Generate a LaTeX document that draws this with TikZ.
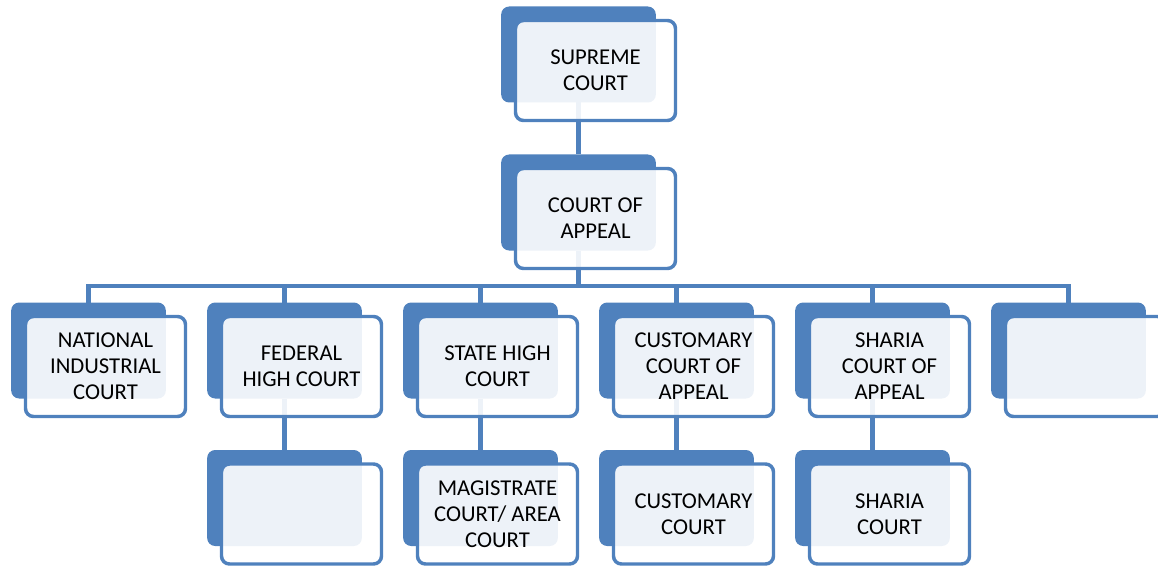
\documentclass[tikz,border=0pt]{standalone}
\usepackage{fontspec}
\setmainfont{Carlito}
\usepackage{xcolor}
\usetikzlibrary{calc,backgrounds}
\definecolor{courtblue}{HTML}{4F81BD}

\newcommand{\courtbox}[4]{%
  \node[backbox] (#1-b) at (#2,#3) {};
  \node[frontbox] (#1) at ($(#1-b)+(17,16)$) {#4};}

\begin{document}
\begin{tikzpicture}[x=0.75pt,y=0.75pt,yscale=-1,xscale=1,
    backbox/.style={fill=courtblue, rounded corners=6pt, minimum width=116pt, minimum height=72pt, inner sep=0pt, outer sep=0pt},
    frontbox/.style={draw=courtblue, line width=2.6pt, fill=white, fill opacity=0.9, text opacity=1, rounded corners=6pt, minimum width=120pt, minimum height=75pt, inner sep=0pt, outer sep=0pt, align=center, font=\fontsize{17}{19.5}\selectfont},
    link/.style={draw=courtblue, line width=3.2pt}]
        \useasboundingbox (0,0) rectangle (1158,567);

        % top
        \courtbox{sc}{578.5}{54.5}{SUPREME\\COURT}
        \courtbox{ca}{578.5}{202.5}{COURT OF\\APPEAL}
        % second row
        \courtbox{nic}{88.5}{350.5}{NATIONAL\\INDUSTRIAL\\COURT}
        \courtbox{fhc}{284.5}{350.5}{FEDERAL\\HIGH COURT}
        \courtbox{shc}{480.5}{350.5}{STATE HIGH\\COURT}
        \courtbox{cca}{676.5}{350.5}{CUSTOMARY\\COURT OF\\APPEAL}
        \courtbox{sca}{872.5}{350.5}{SHARIA\\COURT OF\\APPEAL}
        \courtbox{blank}{1068.5}{350.5}{}
        % third row
        \courtbox{fhclow}{284.5}{498}{}
        \courtbox{mag}{480.5}{498}{MAGISTRATE\\COURT/ AREA\\COURT}
        \courtbox{cc}{676.5}{498}{CUSTOMARY\\COURT}
        \courtbox{shr}{872.5}{498}{SHARIA\\COURT}

        \begin{scope}[on background layer]
        \coordinate (bus) at (578.5,286);
        \draw[link] (sc-b.south) -- (ca-b.north);
        \draw[link] (ca-b.south) -- (ca-b.south |- bus);
        \draw[link] (nic-b.north) -- (nic-b.north |- bus) -- (blank-b.north |- bus) -- (blank-b.north);
        \draw[link] (fhc-b.north) -- (fhc-b.north |- bus);
        \draw[link] (shc-b.north) -- (shc-b.north |- bus);
        \draw[link] (cca-b.north) -- (cca-b.north |- bus);
        \draw[link] (sca-b.north) -- (sca-b.north |- bus);
        \draw[link] (fhc-b.south) -- (fhclow-b.north);
        \draw[link] (shc-b.south) -- (mag-b.north);
        \draw[link] (cca-b.south) -- (cc-b.north);
        \draw[link] (sca-b.south) -- (shr-b.north);
        \end{scope}
    \end{tikzpicture}
\end{document}
